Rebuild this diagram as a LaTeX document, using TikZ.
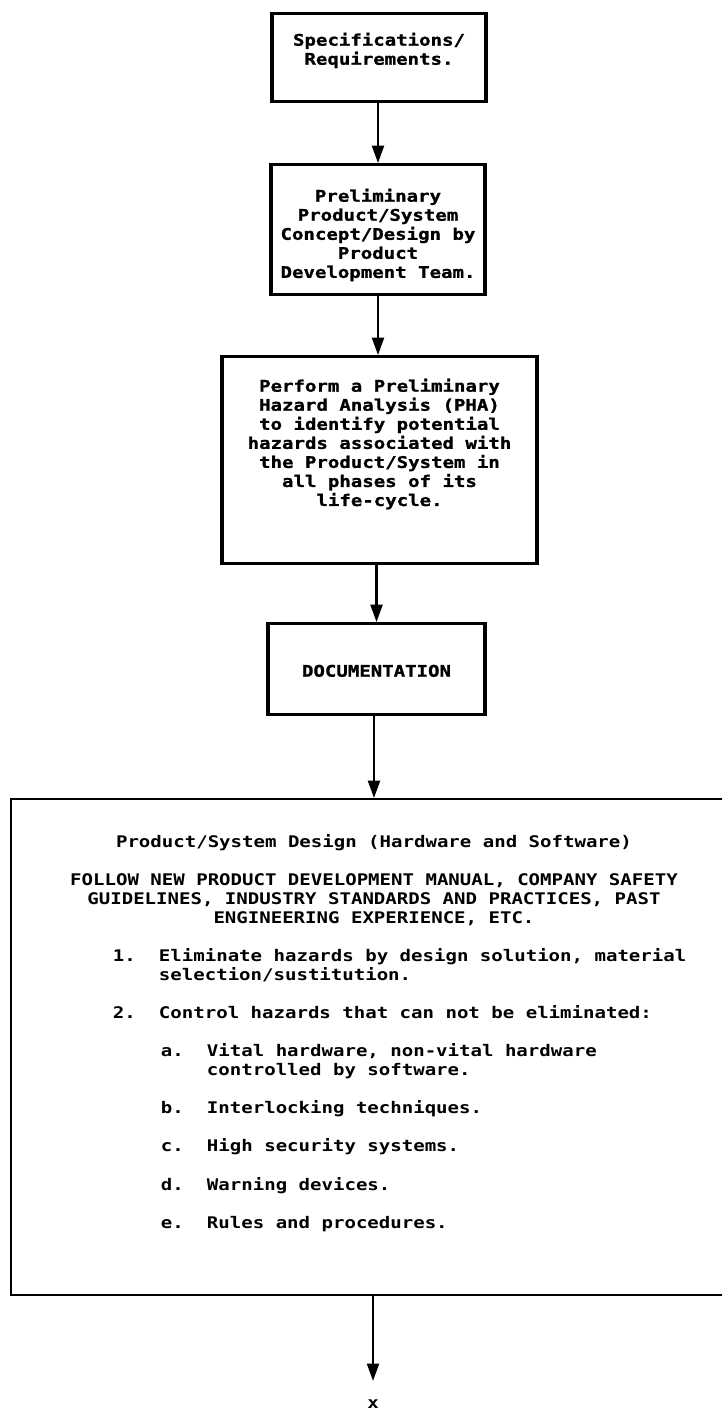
\documentclass[tikz,border=0pt]{standalone}
\usepackage{fontspec}
\usetikzlibrary{arrows.meta}
\newfontfamily\printfont[FakeStretch=1.19]{DejaVu Sans Mono Bold}
\newfontfamily\heavyfont[FakeStretch=1.19,FakeBold=1.2]{DejaVu Sans Mono Bold}
\newcommand\printtype{\fontsize{12pt}{14.29pt}\selectfont\printfont}
\newcommand\heavytype{\fontsize{12pt}{14.29pt}\selectfont\heavyfont}
\newcommand\monospaces{\spaceskip=8.6pt\relax\xspaceskip=8.6pt\relax}

\begin{document}
\begin{tikzpicture}[
    x=0.75pt,
    y=-0.75pt,
    flowbox/.style={
        draw,
        line width=2.5pt,
        anchor=north,
        inner sep=0pt,
        align=center,
        font=\heavytype,
        execute at begin node=\monospaces,
    },
    bigbox/.style={
        draw,
        line width=1.6pt,
        anchor=north,
        inner sep=0pt,
        align=left,
        font=\printtype,
        execute at begin node=\monospaces,
    },
    flowarrow/.style={
        line width=1.6pt,
        -{Triangle[length=13pt,width=9pt]},
    },
]
    \useasboundingbox (0,0) rectangle (722,1413);
    \clip (0,0) rectangle (722,1413);

    % boxes
    \node[flowbox, text width=160.5pt, text height=24pt, text depth=42pt]
        (spec) at (379,12) {Specifications/\\Requirements.};
    \node[flowbox, text width=160.5pt, text height=27.75pt, text depth=69.75pt]
        (concept) at (378,163) {Preliminary\\Product/System\\Concept/Design by\\Product\\Development Team.};
    \node[flowbox, text width=236.25pt, text height=26.25pt, text depth=129pt]
        (pha) at (379.5,355) {Perform a Preliminary\\Hazard Analysis (PHA)\\to identify potential\\hazards associated with\\the Product/System in\\all phases of its\\life-cycle.};
    \node[flowbox, text width=162.75pt, text height=39.75pt, text depth=28.5pt]
        (docu) at (376.5,622) {DOCUMENTATION};
    \node[bigbox, text width=544.5pt, text height=36pt, text depth=336pt]
        (design) at (374,798) {%
        {\centering Product/System Design (Hardware and Software)\par}%
        \vspace{\baselineskip}%
        {\centering FOLLOW NEW PRODUCT DEVELOPMENT MANUAL, COMPANY SAFETY\\
        GUIDELINES, INDUSTRY STANDARDS AND PRACTICES, PAST\\
        ENGINEERING EXPERIENCE, ETC.\par}%
        \vspace{\baselineskip}%
        {\leftskip=76.5pt
        \makebox[34.5pt][l]{1.}Eliminate hazards by design solution, material\\
        \hspace*{34.5pt}selection/sustitution.\par
        \vspace{\baselineskip}%
        \makebox[34.5pt][l]{2.}Control hazards that can not be eliminated:\par}%
        \vspace{\baselineskip}%
        {\leftskip=112.5pt
        \makebox[34.5pt][l]{a.}Vital hardware, non-vital hardware\\
        \hspace*{34.5pt}controlled by software.\par
        \vspace{\baselineskip}%
        \makebox[34.5pt][l]{b.}Interlocking techniques.\par
        \vspace{\baselineskip}%
        \makebox[34.5pt][l]{c.}High security systems.\par
        \vspace{\baselineskip}%
        \makebox[34.5pt][l]{d.}Warning devices.\par
        \vspace{\baselineskip}%
        \makebox[34.5pt][l]{e.}Rules and procedures.\par}};
    \node[font=\printtype] (xmark) at (373,1404) {x};

    % arrows
    \draw[flowarrow] (spec.south -| concept.north) -- (concept.north);
    \draw[flowarrow] (concept.south) -- (concept.south |- pha.north);
    \draw[flowarrow] (pha.south -| docu.north) -- (docu.north);
    \draw[flowarrow] (docu.south -| design.north) -- (design.north);
    \draw[flowarrow, shorten >=10.5pt] (design.south -| xmark.north) -- (xmark.north);
\end{tikzpicture}
\end{document}
